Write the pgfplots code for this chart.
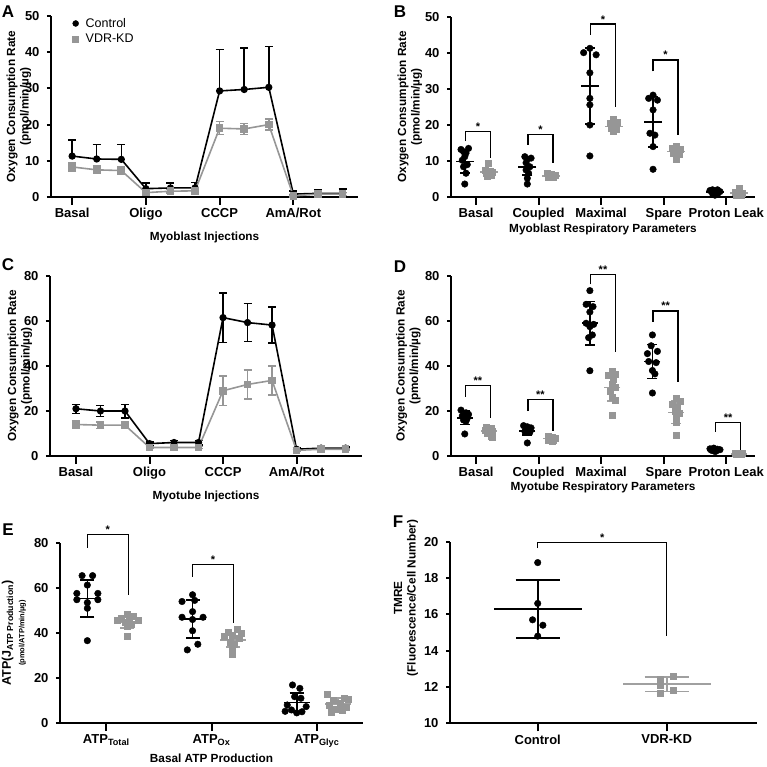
\documentclass[border=0pt]{standalone}
\usepackage{fontspec}
\setmainfont{Liberation Sans}
\usepackage{pgfplots}
\pgfplotsset{compat=1.18}
\definecolor{kd}{RGB}{150,150,150}
\definecolor{kdbar}{RGB}{160,160,160}
\pgfplotsset{
  panel/.style={
    scale only axis,
    axis x line*=bottom, axis y line*=left,
    axis line style={line width=2.2pt, -},
    tick align=outside,
    major tick length=8pt,
    xtick style={line width=2pt, black},
    ytick style={line width=2pt, black, /pgfplots/major tick length=4pt},
    minor tick num=0,
    ticklabel style={font=\fontsize{13}{15}\selectfont\bfseries},
    /pgf/number format/assume math mode=true,
    label style={font=\fontsize{11.8}{13.5}\selectfont\bfseries},
    ylabel style={align=center, anchor=center},
    xlabel style={anchor=center},
    clip=false,
    anchor=south west,
  },
  ctrlsc/.style={only marks, mark=*, mark size=3.3pt, black, mark options={draw=black, fill=black}},
  kdsc/.style={only marks, mark=square*, mark size=3pt, mark options={draw=kd, fill=kd}},
  msd/.style n args={3}{only marks, mark=-, mark size=#1pt, color=#3,
     mark options={line width=1.6pt, draw=#3},
     error bars/.cd, y dir=both, y explicit,
     error bar style={line width=1.6pt, #3},
     error mark options={rotate=90, mark size=#2pt, line width=1.6pt, draw=#3}, /pgfplots/.cd},
  bracket/.style={black, line width=1.5pt, mark=none},
  ctrlline/.style={black, line width=1.6pt, mark=*, mark size=2.8pt, mark options={fill=black},
     error bars/.cd, y dir=#1, y explicit,
     error bar style={line width=1.5pt, black},
     error mark options={rotate=90, mark size=4pt, line width=1.5pt, black}, /pgfplots/.cd},
  kdline/.style={kd, line width=1.6pt, mark=square*, mark size=3pt, mark options={fill=kd, draw=kd},
     error bars/.cd, y dir=both, y explicit,
     error bar style={line width=1.5pt, kd},
     error mark options={rotate=90, mark size=4pt, line width=1.5pt, kd}, /pgfplots/.cd},
}
\newcommand{\sigstar}[1]{\node[font=\fontsize{11}{11}\selectfont\bfseries, anchor=south, inner sep=1pt] at (#1) {*};}
\newcommand{\sigdstar}[1]{\node[font=\fontsize{11}{11}\selectfont\bfseries, anchor=south, inner sep=1pt] at (#1) {**};}
\begin{document}
\begin{tikzpicture}
\useasboundingbox (0,0) rectangle (767pt,766pt);
\node[font=\fontsize{17}{17}\selectfont\bfseries] at (8pt,754pt) {A};
\node[font=\fontsize{17}{17}\selectfont\bfseries] at (400pt,754pt) {B};
\node[font=\fontsize{17}{17}\selectfont\bfseries] at (8pt,501pt) {C};
\node[font=\fontsize{17}{17}\selectfont\bfseries] at (400pt,499pt) {D};
\node[font=\fontsize{17}{17}\selectfont\bfseries] at (8pt,236pt) {E};
\node[font=\fontsize{17}{17}\selectfont\bfseries] at (398pt,244pt) {F};

% ---------------- A
\begin{axis}[panel, at={(51pt,569pt)}, width=307pt, height=181pt,
  xmin=0.14, xmax=12.63, ymin=0, ymax=50,
  xtick={1,4,7,10}, xticklabels={Basal,Oligo,CCCP,AmA/Rot},
  ytick={0,10,20,30,40,50},
  xlabel={Myoblast Injections},
  xlabel style={at={(axis description cs:0.5,0)}, yshift=-40pt},
  ylabel={Oxygen Consumption Rate\\(pmol/min/µg)},
  ylabel style={at={(axis description cs:-0.105,0.5)}},
  legend style={draw=none, fill=none, at={(axis description cs:0.07,1.0)}, anchor=north west,
     font=\fontsize{12.5}{14}\selectfont, inner sep=0pt, row sep=1pt, column sep=5pt, cells={anchor=west}},
  ]
\addlegendimage{only marks, mark=*, mark size=3pt, black}
\addlegendentry{Control}
\addlegendimage{only marks, mark=square*, mark size=3pt, kd, mark options={fill=kd,draw=kd}}
\addlegendentry{VDR-KD}
\addplot[forget plot, ctrlline=plus] coordinates {
 (1,11.3) +- (0,4.5) (2,10.5) +- (0,4.0) (3,10.4) +- (0,4.1)
 (4,2.3) +- (0,1.5) (5,2.5) +- (0,1.3) (6,2.5) +- (0,1.5)
 (7,29.3) +- (0,11.4) (8,29.7) +- (0,11.5) (9,30.3) +- (0,11.3)
 (10,0.8) +- (0,0.8) (11,1.0) +- (0,1.0) (12,1.0) +- (0,1.2)};
\addplot[forget plot, kdline] coordinates {
 (1,8.3) +- (0,1.2) (2,7.5) +- (0,1.0) (3,7.3) +- (0,1.0)
 (4,1.2) +- (0,0.6) (5,1.6) +- (0,0.5) (6,1.7) +- (0,0.5)
 (7,19.0) +- (0,1.8) (8,18.8) +- (0,1.5) (9,20.0) +- (0,1.5)
 (10,0.3) +- (0,0.3) (11,0.8) +- (0,0.4) (12,0.8) +- (0,0.4)};
\end{axis}

% ---------------- B
\begin{axis}[panel, at={(451pt,569pt)}, width=304pt, height=180pt,
  xmin=0.6, xmax=5.46, ymin=0, ymax=50,
  xtick={1,2,3,4,5}, xticklabels={Basal,Coupled,Maximal,Spare,Proton Leak},
  ytick={0,10,20,30,40,50},
  xlabel={Myoblast Respiratory Parameters},
  xlabel style={at={(axis description cs:0.5,0)}, yshift=-32pt},
  ylabel={Oxygen Consumption Rate\\(pmol/min/µg)},
  ylabel style={at={(axis description cs:-0.135,0.5)}},
  ]
\addplot[msd={9}{5}{kdbar}] coordinates {(1.2,6.9) +- (0,1.0) (2.2,5.9) +- (0,0.4) (3.2,19.6) +- (0,1.0) (4.2,12.6) +- (0,1.1) (5.2,1.1) +- (0,0.6)};
\addplot[kdsc] coordinates {
 (1.2,9.3)(1.14,7.5)(1.22,7.3)(1.26,7.0)(1.16,6.6)(1.2,6.4)(1.24,6.0)(1.18,5.8)(1.22,6.8)
 (2.14,6.5)(2.2,6.3)(2.26,6.0)(2.18,5.8)(2.22,5.6)(2.16,5.4)(2.24,5.5)(2.2,6.0)
 (3.2,21.5)(3.14,20.5)(3.26,20.8)(3.18,19.8)(3.22,19.5)(3.16,19.0)(3.24,18.8)(3.2,18.3)
 (4.2,14.2)(4.14,13.5)(4.26,13.2)(4.2,12.8)(4.16,12.2)(4.24,12.0)(4.2,11.2)(4.2,10.6)
 (5.2,2.5)(5.14,1.2)(5.26,1.0)(5.2,0.8)(5.16,0.5)(5.24,0.6)(5.2,1.5)};
\addplot[ctrlsc] coordinates {
 (0.76,13.2)(0.88,13.5)(0.80,12.6)(0.84,12.2)(0.82,11.2)(0.78,10.2)(0.86,9.0)(0.80,8.4)(0.84,6.6)(0.82,3.6)
 (1.78,11.2)(1.88,10.8)(1.82,10.5)(1.80,9.5)(1.86,8.4)(1.80,7.5)(1.84,6.6)(1.82,5.2)(1.82,3.6)
 (2.72,40.1)(2.82,41.3)(2.92,39.5)(2.82,34.5)(2.82,27.4)(2.82,25.6)(2.82,20.0)(2.82,11.4)
 (3.76,27.4)(3.83,28.3)(3.90,26.9)(3.83,24.2)(3.78,17.7)(3.86,17.2)(3.83,14.0)(3.83,7.7)
 (4.74,1.8)(4.78,2.0)(4.82,1.5)(4.86,2.0)(4.90,1.5)(4.78,1.0)(4.86,0.8)(4.82,0.5)};
\addplot[msd={9}{5}{black}] coordinates {(0.82,9.9) +- (0,3.3) (1.82,8.4) +- (0,2.3) (2.82,30.8) +- (0,10.6) (3.83,20.9) +- (0,7.0) (4.82,1.4) +- (0,0.5)};
\addplot[bracket] coordinates {(0.83,15.5)(0.83,18.2)(1.23,18.2)(1.23,10.8)};
\addplot[bracket] coordinates {(1.83,14.5)(1.83,17.3)(2.23,17.3)(2.23,9.4)};
\addplot[bracket] coordinates {(2.83,45)(2.83,48)(3.23,48)(3.23,25)};
\addplot[bracket] coordinates {(3.83,34.9)(3.83,38.1)(4.23,38.1)(4.23,17.3)};
\sigstar{axis cs:1.03,18.2}
\sigstar{axis cs:2.03,17.3}
\sigstar{axis cs:3.03,48}
\sigstar{axis cs:4.03,38.1}
\end{axis}

% ---------------- C
\begin{axis}[panel, at={(50pt,310pt)}, width=312pt, height=180pt,
  xmin=-0.06, xmax=12.67, ymin=0, ymax=80,
  xtick={1,4,7,10}, xticklabels={Basal,Oligo,CCCP,AmA/Rot},
  ytick={0,20,40,60,80},
  xlabel={Myotube Injections},
  xlabel style={at={(axis description cs:0.5,0)}, yshift=-40pt},
  ylabel={Oxygen Consumption Rate\\(pmol/min/µg)},
  ylabel style={at={(axis description cs:-0.097,0.5)}},
  ]
\addplot[ctrlline=both] coordinates {
 (1,21) +- (0,2) (2,20) +- (0,2.5) (3,20) +- (0,3)
 (4,5.5) +- (0,0.8) (5,6) +- (0,1) (6,6) +- (0,1)
 (7,61.5) +- (0,11) (8,59.3) +- (0,8.5) (9,58.2) +- (0,8)
 (10,3) +- (0,0.5) (11,3.5) +- (0,0.5) (12,3.5) +- (0,0.5)};
\addplot[kdline] coordinates {
 (1,14) +- (0,1.5) (2,13.7) +- (0,1.5) (3,13.7) +- (0,1.5)
 (4,3.8) +- (0,0.5) (5,3.8) +- (0,0.5) (6,3.8) +- (0,0.5)
 (7,29) +- (0,6.5) (8,31.8) +- (0,6.5) (9,33.6) +- (0,6.5)
 (10,2.5) +- (0,0.4) (11,3) +- (0,0.4) (12,3) +- (0,0.4)};
\end{axis}

% ---------------- D
\begin{axis}[panel, at={(451pt,310pt)}, width=304pt, height=180pt,
  xmin=0.6, xmax=5.46, ymin=0, ymax=80,
  xtick={1,2,3,4,5}, xticklabels={Basal,Coupled,Maximal,Spare,Proton Leak},
  ytick={0,20,40,60,80},
  xlabel={Myotube Respiratory Parameters},
  xlabel style={at={(axis description cs:0.5,0)}, yshift=-31pt},
  ylabel={Oxygen Consumption Rate\\(pmol/min/µg)},
  ylabel style={at={(axis description cs:-0.14,0.5)}},
  ]
\addplot[msd={8}{5}{kdbar}] coordinates {(1.2,11) +- (0,1.5) (2.2,7.7) +- (0,0.8) (3.18,30.4) +- (0,6) (4.2,19.4) +- (0,5) (5.2,1.0) +- (0,0.2)};
\addplot[kdsc] coordinates {
 (1.16,13.0)(1.24,12.5)(1.2,12.0)(1.14,11.5)(1.26,11.0)(1.2,10.5)(1.18,10.0)(1.24,9.0)(1.26,8.5)
 (2.16,9.0)(2.22,8.5)(2.26,8.0)(2.18,7.8)(2.2,7.5)(2.24,7.2)(2.16,7.0)(2.22,6.8)
 (3.17,37.5)(3.23,36.5)(3.12,35.7)(3.20,34)(3.17,32)(3.23,30.5)(3.14,29)(3.17,26)(3.22,25)(3.17,18)
 (4.2,25.6)(4.26,24.5)(4.14,23.0)(4.22,21.5)(4.18,20.0)(4.24,19.0)(4.2,17.0)(4.2,15.0)(4.2,9.2)
 (5.14,1.2)(5.2,1.0)(5.26,1.1)(5.18,0.8)(5.22,0.9)(5.16,1.0)(5.24,0.8)};
\addplot[ctrlsc] coordinates {
 (0.76,20.4)(0.84,19.2)(0.88,18.5)(0.78,17.8)(0.82,17.2)(0.86,16.8)(0.80,16.0)(0.84,15.5)(0.82,9.8)
 (1.76,13.5)(1.82,13.0)(1.88,12.5)(1.80,12.0)(1.84,11.5)(1.78,11.0)(1.86,10.5)(1.82,5.8)
 (2.82,73.5)(2.76,67.4)(2.87,66.4)(2.82,64.0)(2.76,59.0)(2.88,58.5)(2.82,57.5)(2.86,53.8)(2.80,52.6)(2.82,37.9)
 (3.82,53.8)(3.80,49.0)(3.90,46.5)(3.74,45.5)(3.76,42.0)(3.88,41.5)(3.82,38.0)(3.86,36.5)(3.82,28.0)
 (4.74,3.2)(4.80,3.5)(4.86,3.0)(4.90,2.8)(4.78,2.5)(4.84,2.2)(4.82,2.0)(4.76,2.6)};
\addplot[msd={8}{5}{black}] coordinates {(0.82,17) +- (0,3) (1.82,11.2) +- (0,1.8) (2.82,59) +- (0,9.7) (3.82,42) +- (0,7.5) (4.82,2.7) +- (0,0.5)};
\addplot[bracket] coordinates {(0.83,26.4)(0.83,31.3)(1.23,31.3)(1.23,16.7)};
\addplot[bracket] coordinates {(1.83,20)(1.83,25.2)(2.23,25.2)(2.23,11.3)};
\addplot[bracket] coordinates {(2.83,76.3)(2.83,80.7)(3.23,80.7)(3.23,46.4)};
\addplot[bracket] coordinates {(3.83,59.7)(3.83,64.4)(4.23,64.4)(4.23,33)};
\addplot[bracket] coordinates {(4.83,10.8)(4.83,15)(5.23,15)(5.23,1.2)};
\sigdstar{axis cs:1.03,31.3}
\sigdstar{axis cs:2.03,25.2}
\sigdstar{axis cs:3.03,80.7}
\sigdstar{axis cs:4.03,64.4}
\sigdstar{axis cs:5.03,15}
\end{axis}

% ---------------- E
\begin{axis}[panel, at={(60pt,43pt)}, width=303pt, height=180pt,
  xmin=0.56, xmax=3.44, ymin=0, ymax=80,
  xtick={1,2,3}, xticklabels={ATP\textsubscript{Total},ATP\textsubscript{Ox},ATP\textsubscript{Glyc}},
  ytick={0,20,40,60,80},
  xlabel={Basal ATP Production},
  xlabel style={at={(axis description cs:0.5,0)}, yshift=-35.5pt},
  ylabel={{\fontsize{12.5}{13}\selectfont ATP(J\textsubscript{ATP Production})}\\{\fontsize{7.5}{9}\selectfont (pmol/ATP/min/µg)}},
  ylabel style={at={(axis description cs:-0.152,0.5)}},
  ]
\addplot[msd={13}{7}{kdbar}] coordinates {(1.2,45) +- (0,2.7) (2.2,37) +- (0,3.3) (3.2,8.5) +- (0,2.6)};
\addplot[kdsc] coordinates {
 (1.2,48.5)(1.26,47.5)(1.14,46.5)(1.22,46.0)(1.3,45.5)(1.1,45.5)(1.18,45.0)(1.24,44.0)(1.2,43.0)(1.2,38.5)
 (2.24,41.5)(2.16,40.5)(2.28,40.0)(2.2,39.0)(2.12,38.5)(2.26,37.5)(2.18,36.0)(2.22,35.0)(2.2,33.0)(2.2,30.5)
 (3.1,13.0)(3.26,11.0)(3.3,10.5)(3.16,10.0)(3.22,9.0)(3.12,8.0)(3.28,7.0)(3.18,6.0)(3.24,5.5)(3.14,5.0)};
\addplot[ctrlsc] coordinates {
 (0.77,65.5)(0.87,65.5)(0.82,61.3)(0.72,57.6)(0.92,57.6)(0.72,54.8)(0.92,54.8)(0.82,53.5)(0.82,51.0)(0.82,36.6)
 (1.82,57.0)(1.72,54.0)(1.84,54.5)(1.82,49.5)(1.72,47.0)(1.92,47.0)(1.82,46.0)(1.82,41.0)(1.87,35.0)(1.77,32.5)
 (2.77,16.9)(2.84,15.4)(2.79,11.7)(2.85,11.0)(2.72,8.0)(2.9,7.3)(2.76,5.8)(2.86,5.0)(2.81,4.5)(2.7,5.2)};
\addplot[msd={13}{7}{black}] coordinates {(0.82,55.3) +- (0,8.2) (1.82,46.2) +- (0,8.5) (2.81,9.1) +- (0,4.2)};
\addplot[bracket] coordinates {(0.82,77.8)(0.82,83.7)(1.21,83.7)(1.21,57.1)};
\addplot[bracket] coordinates {(1.82,65)(1.82,70.5)(2.21,70.5)(2.21,44.3)};
\sigstar{axis cs:1.015,83.7}
\sigstar{axis cs:2.015,70.5}
\end{axis}

% ---------------- F
\begin{axis}[panel, at={(450pt,42.7pt)}, width=307pt, height=181.6pt,
  xmin=0.32, xmax=2.7, ymin=10, ymax=20,
  xtick={1,2}, xticklabels={Control,VDR-KD},
  ytick={10,12,14,16,18,20},
  ylabel={TMRE\\(Fluorescence/Cell Number)},
  ylabel style={at={(axis description cs:-0.143,0.69)}},
  ]
\addplot[only marks, mark=-, mark size=44pt, mark options={line width=1.6pt, draw=kdbar}] coordinates {(2,12.15)};
\addplot[msd={22}{22}{kdbar}] coordinates {(2,12.15) +- (0,0.4)};
\addplot[kdsc] coordinates {(2.05,12.6)(1.95,12.45)(1.95,12.1)(2.05,11.85)(1.95,11.65)};
\addplot[ctrlsc] coordinates {(1,18.85)(1,16.6)(0.96,15.7)(1.04,15.4)(1,14.8)};
\addplot[only marks, mark=-, mark size=44pt, mark options={line width=1.6pt, draw=black}] coordinates {(1,16.3)};
\addplot[msd={22}{22}{black}] coordinates {(1,16.3) +- (0,1.6)};
\addplot[bracket] coordinates {(1,19.65)(1,19.95)(2,19.95)(2,14.8)};
\sigstar{axis cs:1.5,19.95}
\end{axis}
\end{tikzpicture}
\end{document}
